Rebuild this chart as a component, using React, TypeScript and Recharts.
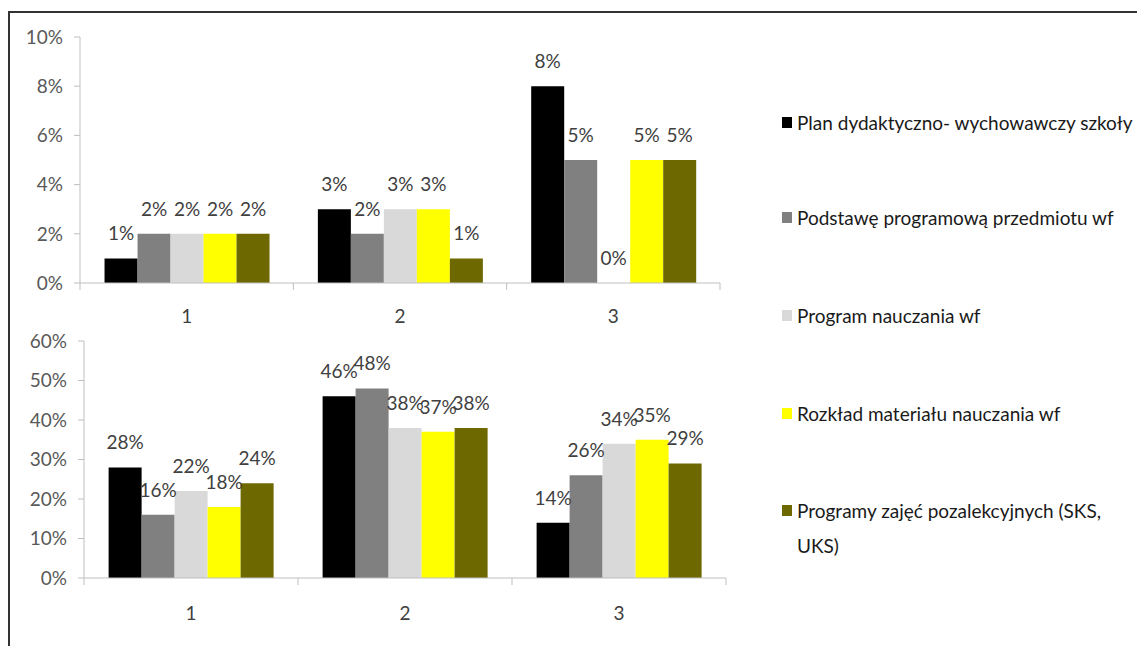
import React from "react";
import { BarChart, Bar, XAxis, YAxis, LabelList } from "recharts";

const categories = ["1", "2", "3"];
const seriesNames = [
  "Plan dydaktyczno- wychowawczy szkoły",
  "Podstawę programową przedmiotu wf",
  "Program nauczania wf",
  "Rozkład materiału nauczania wf",
  "Programy zajęć pozalekcyjnych (SKS, UKS)",
];
const seriesColors = ["#000000", "#808080", "#d9d9d9", "#ffff00", "#6e6800"];

const topPlan = [1, 3, 8];
const topPodstawa = [2, 2, 5];
const topProgram = [2, 3, 0];
const topRozklad = [2, 3, 5];
const topPozalekcyjne = [2, 1, 5];

const botPlan = [28, 46, 14];
const botPodstawa = [16, 48, 26];
const botProgram = [22, 38, 34];
const botRozklad = [18, 37, 35];
const botPozalekcyjne = [24, 38, 29];

const topTicks = [0, 2, 4, 6, 8, 10];
const botTicks = [0, 10, 20, 30, 40, 50, 60];

const keys = ["s0", "s1", "s2", "s3", "s4"];

const build = (arrs: number[][]) =>
  categories.map((c, i) => {
    const row: any = { name: c };
    arrs.forEach((a, k) => (row[keys[k]] = a[i]));
    return row;
  });

const topData = build([topPlan, topPodstawa, topProgram, topRozklad, topPozalekcyjne]);
const botData = build([botPlan, botPodstawa, botProgram, botRozklad, botPozalekcyjne]);

const FONT = "Lato, 'Open Sans', sans-serif";
const AXIS = "#bfbfbf";

const makeTick = (labelDy: number) => (props: any) => {
  const { x, y, payload, index, visibleTicksCount } = props;
  const off = payload.offset || 0;
  const last = index === visibleTicksCount - 1;
  return (
    <g>
      <line x1={x - off} x2={x - off} y1={y} y2={y + 7} stroke={AXIS} />
      {last && <line x1={x + off} x2={x + off} y1={y} y2={y + 7} stroke={AXIS} />}
      <text x={x} y={y + labelDy} textAnchor="middle" fill="#404040" fontSize={19} fontFamily={FONT}>
        {payload.value}
      </text>
    </g>
  );
};

const pct = (v: any) => `${v}%`;

function Panel(props: {
  data: any[];
  ticks: number[];
  max: number;
  yWidth: number;
  width: number;
  height: number;
  top: number;
  xHeight: number;
  labelDy: number;
}) {
  const { data, ticks, max, yWidth, width, height, top, xHeight, labelDy } = props;
  return (
    <BarChart
      width={width}
      height={height}
      data={data}
      margin={{ top, right: 20, left: 0, bottom: 0 }}
      barCategoryGap="11.5%"
      barGap={0}
    >
      <XAxis
        dataKey="name"
        height={xHeight}
        axisLine={{ stroke: AXIS }}
        tickLine={false}
        tickSize={0}
        tickMargin={0}
        interval={0}
        tick={makeTick(labelDy)}
      />
      <YAxis
        width={yWidth}
        domain={[0, max]}
        ticks={ticks}
        interval={0}
        tickFormatter={pct}
        axisLine={{ stroke: AXIS }}
        tickLine={{ stroke: AXIS }}
        tickSize={6}
        tickMargin={11}
        tick={{ fill: "#595959", fontSize: 19, fontFamily: FONT }}
      />
      {keys.map((k, i) => (
        <Bar key={k} dataKey={k} fill={seriesColors[i]} minPointSize={0.01} isAnimationActive={false}>
          <LabelList
            dataKey={k}
            position="top"
            offset={18}
            formatter={pct}
            fill="#404040"
            fontSize={19}
            fontFamily={FONT}
          />
        </Bar>
      ))}
    </BarChart>
  );
}

const legendRows: { text: string; y: number; marker: number | null }[] = [
  { text: seriesNames[0], y: 122, marker: 0 },
  { text: seriesNames[1], y: 217, marker: 1 },
  { text: seriesNames[2], y: 315, marker: 2 },
  { text: seriesNames[3], y: 413, marker: 3 },
  { text: "Programy zajęć pozalekcyjnych (SKS,", y: 510, marker: 4 },
  { text: "UKS)", y: 545, marker: null },
];

export default function App() {
  return (
    <div
      style={{
        position: "absolute",
        left: 0,
        top: 0,
        width: 1137,
        height: 646,
        background: "#ffffff",
        overflow: "hidden",
      }}
    >
      <div style={{ position: "absolute", left: 0, top: 0 }}>
        <Panel data={topData} ticks={topTicks} max={10} yWidth={80} width={740} height={333} top={37} xHeight={50} labelDy={40} />
      </div>
      <div style={{ position: "absolute", left: 0, top: 300 }}>
        <Panel data={botData} ticks={botTicks} max={60} yWidth={84} width={746} height={338} top={41} xHeight={60} labelDy={42} />
      </div>
      <svg width={1137} height={646} style={{ position: "absolute", left: 0, top: 0, pointerEvents: "none" }}>
        <line x1={8} x2={1137} y1={12} y2={12} stroke="#333333" strokeWidth={2} />
        <line x1={9} x2={9} y1={11} y2={646} stroke="#333333" strokeWidth={2} />
        {legendRows.map((r, i) => (
          <g key={i}>
            {r.marker !== null && (
              <rect x={782} y={r.y - 5} width={10} height={11} fill={seriesColors[r.marker]} />
            )}
            <text x={797} y={r.y} dominantBaseline="central" fontSize={19} fontFamily={FONT} fill="#1a1a1a">
              {r.text}
            </text>
          </g>
        ))}
      </svg>
    </div>
  );
}
